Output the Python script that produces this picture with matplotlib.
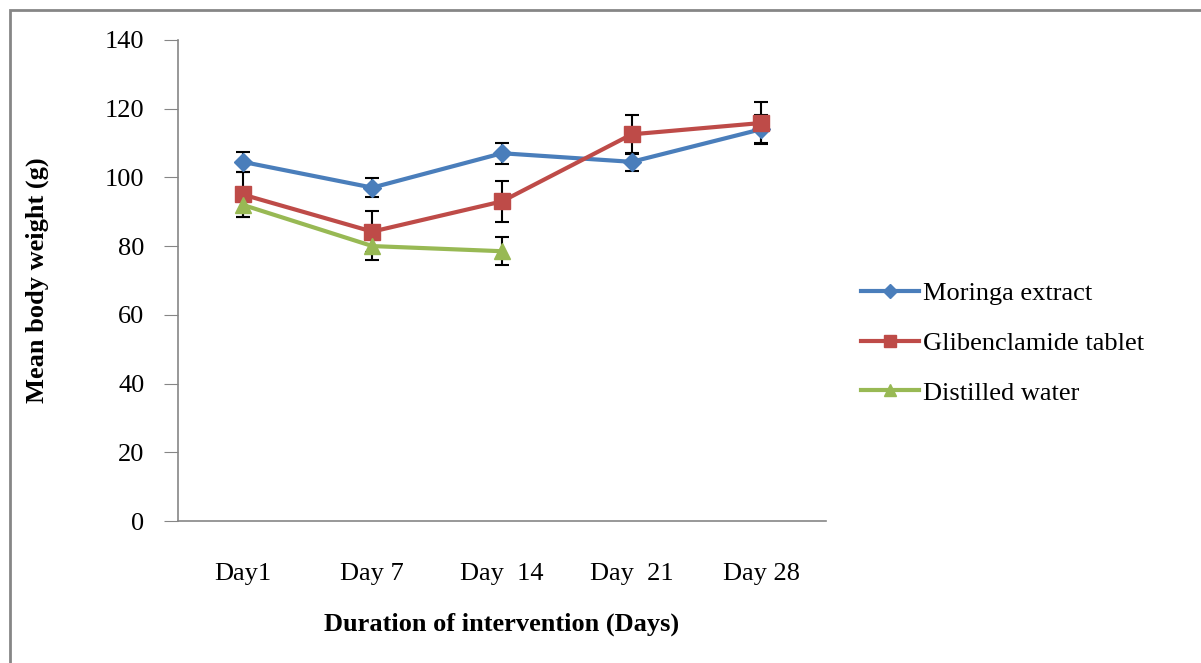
import matplotlib.pyplot as plt
from matplotlib.patches import Rectangle
import numpy as np

# Data
days = ["Day1", "Day 7", "Day  14", "Day  21", "Day 28"]
moringa = [104.5, 97.0, 107.0, 104.5, 114.0]
moringa_err = [3.0, 2.8, 3.0, 2.7, 4.0]
gliben = [95.0, 84.2, 93.0, 112.5, 115.8]
gliben_err = [6.5, 6.0, 6.0, 5.6, 6.0]
water = [92.0, 80.0, 78.5]
water_err = [3.5, 4.0, 4.0]

plt.rcParams['font.family'] = ['Liberation Serif', 'DejaVu Serif']

fig = plt.figure(figsize=(12.01, 6.63), dpi=100)
ax = fig.add_axes([0.148, 0.214, 0.54, 0.726])

x = np.arange(len(days))
xw = np.arange(len(water))

# Error bars first (black, behind the series)
ax.errorbar(x, moringa, yerr=moringa_err, fmt='none', ecolor='black', elinewidth=1.5, capsize=5, capthick=1.5, zorder=1)
ax.errorbar(x, gliben, yerr=gliben_err, fmt='none', ecolor='black', elinewidth=1.5, capsize=5, capthick=1.5, zorder=1)
ax.errorbar(xw, water, yerr=water_err, fmt='none', ecolor='black', elinewidth=1.5, capsize=5, capthick=1.5, zorder=1)

# Series
ax.plot(x, moringa, color='#4a7ebb', linewidth=3, marker='D', markersize=9, label='Moringa extract', zorder=2)
ax.plot(x, gliben, color='#be4b48', linewidth=3, marker='s', markersize=12, label='Glibenclamide tablet', zorder=3)
ax.plot(xw, water, color='#98b954', linewidth=3, marker='^', markersize=12, label='Distilled water', zorder=4)

ax.set_xlim(-0.5, len(days) - 0.5)
ax.set_ylim(0, 140)
ax.set_yticks(np.arange(0, 141, 20))
ax.set_xticks(x)
ax.set_xticklabels(days, fontsize=19)
ax.tick_params(axis='y', labelsize=19, length=10, color='#868686', pad=14)
ax.tick_params(axis='x', length=0, pad=30)

for side in ['top', 'right']:
    ax.spines[side].set_visible(False)
for side in ['left', 'bottom']:
    ax.spines[side].set_color('#868686')
    ax.spines[side].set_linewidth(1.2)

ax.set_xlabel('Duration of intervention (Days)', fontsize=19, fontweight='bold', labelpad=20)
ax.set_ylabel('Mean body weight (g)', fontsize=19, fontweight='bold', labelpad=40)

ax.legend(loc='center left', bbox_to_anchor=(1.037, 0.37), frameon=False, fontsize=19,
          handlelength=2.2, handletextpad=0.15, labelspacing=1.0, borderaxespad=0,
          markerscale=0.75)

# Outer chart border
fig.patches.append(Rectangle((10 / 1201, -0.1), 1.2, 1 - 10 / 663 + 0.1, transform=fig.transFigure,
                             fill=False, edgecolor='#868686', linewidth=2))

fig.savefig('out.png', dpi=100)
